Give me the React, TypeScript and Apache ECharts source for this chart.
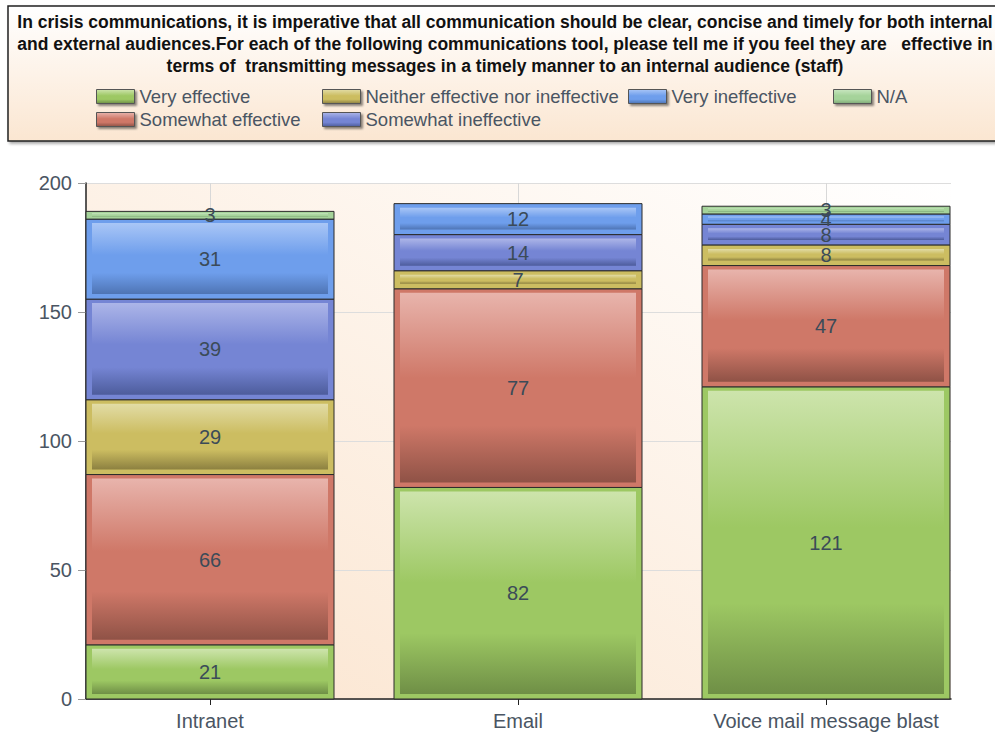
import React, { useEffect, useRef } from "react";
import * as echarts from "echarts";

const categories = ["Intranet", "Email", "Voice mail message blast"];
const seriesNames = [
  "Very effective",
  "Somewhat effective",
  "Neither effective nor ineffective",
  "Somewhat ineffective",
  "Very ineffective",
  "N/A",
];
const veryEffective = [21, 82, 121];
const somewhatEffective = [66, 77, 47];
const neitherEffective = [29, 7, 8];
const somewhatIneffective = [39, 14, 8];
const veryIneffective = [31, 12, 4];
const notApplicable = [3, 0, 3];
const seriesValues = [
  veryEffective,
  somewhatEffective,
  neitherEffective,
  somewhatIneffective,
  veryIneffective,
  notApplicable,
];
const yMin = 0;
const yMax = 200;
const yInterval = 50;

const titleLines = [
  "In crisis communications, it is imperative that all communication should be clear, concise and timely for both internal",
  "and external audiences.For each of the following communications tool, please tell me if you feel they are   effective in",
  "terms of  transmitting messages in a timely manner to an internal audience (staff)",
];

// colours: [base, light, dark]
const palette = [
  ["#9DC863", "#CDE4AC", "#6F8F46"],
  ["#CF7868", "#E8B4AC", "#8F5246"],
  ["#CCBD61", "#E2DCA6", "#8C8040"],
  ["#7585D4", "#ACB5E8", "#4D5C9C"],
  ["#6E9EEC", "#A9C6F6", "#4E74B4"],
  ["#A5D39A", "#C8E6C0", "#80AA78"],
];

const legendPos = [
  [96, 87],
  [96, 110],
  [322, 87],
  [322, 110],
  [628, 87],
  [833, 87],
];

const BAR_RATIO = 248 / 308;
const FONT = "'Liberation Sans', Arial, sans-serif";
const NARROW = "'Liberation Sans Narrow', 'Liberation Sans', Arial, sans-serif";

function grad(c: string[]) {
  return new echarts.graphic.LinearGradient(0, 0, 0, 1, [
    { offset: 0, color: c[1] },
    { offset: 0.45, color: c[0] },
    { offset: 0.7, color: c[0] },
    { offset: 1, color: c[2] },
  ]);
}

export default function App() {
  const ref = useRef<HTMLDivElement>(null);
  useEffect(() => {
    if (!ref.current) return;
    const chart = echarts.init(ref.current, null, { renderer: "svg" });

    const bases = categories.map(() => 0);
    const series = seriesValues.map((vals, si) => {
      const data = vals.map((v, ci) => {
        const item = [ci, v, bases[ci]];
        bases[ci] += v;
        return item;
      });
      const c = palette[si];
      return {
        type: "custom",
        name: seriesNames[si],
        itemStyle: { color: c[0] },
        encode: { x: 0, y: 1 },
        data,
        renderItem: (params: any, api: any) => {
          const xi = api.value(0);
          const v = api.value(1);
          const b = api.value(2);
          if (!v) return null;
          const p0 = api.coord([xi, b]);
          const p1 = api.coord([xi, b + v]);
          const bw = api.size([1, 0])[0] * BAR_RATIO;
          const x = p0[0] - bw / 2;
          const y = p1[1];
          const h = p0[1] - p1[1];
          const insetX = 6;
          const insetT = Math.min(4, h * 0.25);
          const insetB = Math.min(5, h * 0.3);
          return {
            type: "group",
            children: [
              {
                type: "rect",
                shape: { x, y, width: bw, height: h },
                style: { fill: c[0], stroke: "#2b2b2b", lineWidth: 1 },
              },
              {
                type: "rect",
                shape: {
                  x: x + insetX,
                  y: y + insetT,
                  width: bw - 2 * insetX,
                  height: Math.max(0, h - insetT - insetB),
                },
                style: { fill: grad(c) },
              },
              {
                type: "text",
                z2: 100,
                x: p0[0],
                y: y + h / 2,
                style: {
                  text: String(v),
                  fill: "#3b4b58",
                  font: `20px ${FONT}`,
                  align: "center",
                  verticalAlign: "middle",
                },
              },
            ],
          };
        },
      };
    });

    const legends = seriesNames.map((name, i) => ({
      show: true,
      left: legendPos[i][0],
      top: legendPos[i][1],
      padding: 0,
      itemWidth: 38,
      itemHeight: 14,
      icon: "rect",
      selectedMode: false,
      textStyle: { fontFamily: NARROW, fontSize: 18.5, color: "#4a5563" },
      data: [
        {
          name,
          itemStyle: {
            color: grad(palette[i]),
            borderColor: "#555",
            borderWidth: 1,
            shadowColor: "rgba(0,0,0,0.45)",
            shadowBlur: 2,
            shadowOffsetX: 2,
            shadowOffsetY: 2,
          },
        },
      ],
    }));

    chart.setOption({
      animation: false,
      backgroundColor: "#ffffff",
      graphic: [
        {
          type: "rect",
          z: -10,
          shape: { x: 8, y: 6, width: 1000, height: 135 },
          style: {
            fill: new echarts.graphic.LinearGradient(0, 0, 0, 1, [
              { offset: 0, color: "#ffffff" },
              { offset: 1, color: "#FBE6D1" },
            ]),
            stroke: "#222",
            lineWidth: 1.5,
            shadowColor: "rgba(0,0,0,0.35)",
            shadowBlur: 3,
            shadowOffsetX: 2,
            shadowOffsetY: 2,
          },
        },
        ...titleLines.map((t, i) => ({
          type: "text",
          x: 505,
          y: 22 + i * 22,
          style: {
            text: t,
            fill: "#111",
            font: `bold 17.5px ${NARROW}`,
            align: "center",
            verticalAlign: "middle",
          },
        })),
      ],
      legend: legends,
      grid: {
        left: 86,
        right: 44,
        top: 183,
        bottom: 37,
        show: true,
        borderWidth: 0,
        backgroundColor: new echarts.graphic.LinearGradient(0, 1, 1, 0, [
          { offset: 0, color: "#FBE4CE" },
          { offset: 1, color: "#FFFFFF" },
        ]),
      },
      xAxis: {
        type: "value",
        min: -124 / 308,
        max: 2 + 125 / 308,
        splitLine: { show: true, lineStyle: { color: "#d8d8d8" } },
        axisLine: {
          show: true,
          onZero: false,
          lineStyle: { color: "#222", width: 1.5 },
        },
        axisTick: {
          show: true,
          customValues: [0, 1, 2],
          length: 6,
          lineStyle: { color: "#222" },
        },
        axisLabel: {
          customValues: [0, 1, 2],
          formatter: (v: number) => categories[Math.round(v)] ?? "",
          fontFamily: FONT,
          fontSize: 20,
          color: "#4a5563",
          margin: 12,
        },
      },
      yAxis: {
        type: "value",
        min: yMin,
        max: yMax,
        interval: yInterval,
        axisLine: {
          show: true,
          onZero: false,
          lineStyle: { color: "#222", width: 1.5 },
        },
        axisTick: { show: true, length: 8, lineStyle: { color: "#999" } },
        splitLine: { show: true, lineStyle: { color: "#dddddd" } },
        axisLabel: {
          fontFamily: FONT,
          fontSize: 20,
          color: "#4a5563",
          margin: 14,
        },
      },
      series,
    });
    return () => chart.dispose();
  }, []);
  return (
    <div
      ref={ref}
      style={{ position: "absolute", left: 0, top: 0, width: 995, height: 736 }}
    />
  );
}
